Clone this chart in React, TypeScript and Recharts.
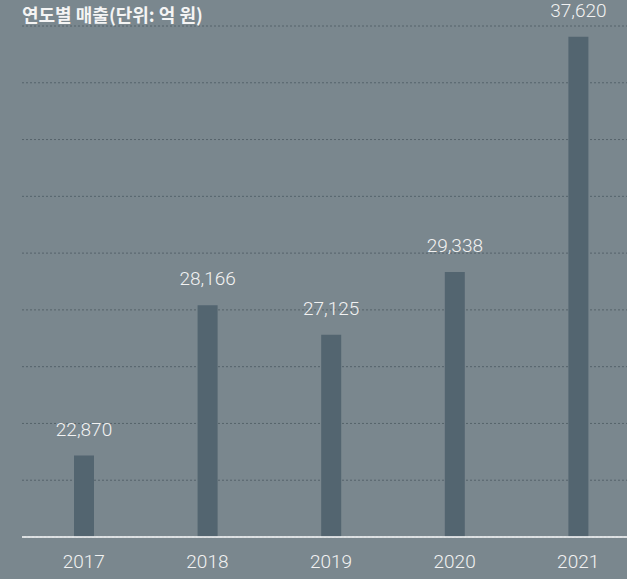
import React from "react";
import { BarChart, Bar, XAxis, YAxis, CartesianGrid, LabelList } from "recharts";

const years = ["2017", "2018", "2019", "2020", "2021"];
const sales = [22870, 28166, 27125, 29338, 37620];
const yTicks = [20000, 22000, 24000, 26000, 28000, 30000, 32000, 34000, 36000];
const title = "연도별 매출(단위: 억 원)";

const data = years.map((y, i) => ({ year: y, value: sales[i] }));

const BG = "#7a878e";
const BAR = "#536570";
const TITLE_FONT = "'Noto Sans CJK KR', 'Noto Sans', sans-serif";
const NUM_FONT = "Roboto, 'Noto Sans', sans-serif";

export default function App() {
  return (
    <div
      style={{
        position: "fixed",
        left: 0,
        top: 0,
        width: 627,
        height: 579,
        overflow: "hidden",
        background: BG,
      }}
    >
      <div
        style={{
          position: "absolute",
          left: 22,
          top: 4,
          fontSize: 18,
          lineHeight: "20px",
          fontWeight: 700,
          color: "#f4f4f4",
          fontFamily: TITLE_FONT,
          zIndex: 2,
        }}
      >
        {title}
      </div>
      <BarChart
        width={640}
        height={579}
        data={data}
        margin={{ top: 26, right: 0, bottom: 0, left: 22 }}
      >
        <CartesianGrid
          horizontal={true}
          vertical={false}
          stroke="#55636b"
          strokeDasharray="2 2"
          strokeWidth={1}
        />
        <YAxis hide domain={[20000, 38000]} ticks={yTicks} />
        <XAxis
          dataKey="year"
          height={42}
          axisLine={{ stroke: "#ffffff", strokeWidth: 1.5 }}
          tickLine={false}
          tickSize={6}
          tickMargin={12}
          tick={{ fill: "#f2f2f2", fontSize: 19, fontFamily: NUM_FONT, fontWeight: 300 }}
        />
        <Bar dataKey="value" fill={BAR} barSize={20} isAnimationActive={false}>
          <LabelList
            dataKey="value"
            position="top"
            offset={20}
            formatter={(v: number) => v.toLocaleString("en-US")}
            style={{ fill: "#f2f2f2", fontSize: 19, fontFamily: NUM_FONT, fontWeight: 300 }}
          />
        </Bar>
      </BarChart>
    </div>
  );
}
